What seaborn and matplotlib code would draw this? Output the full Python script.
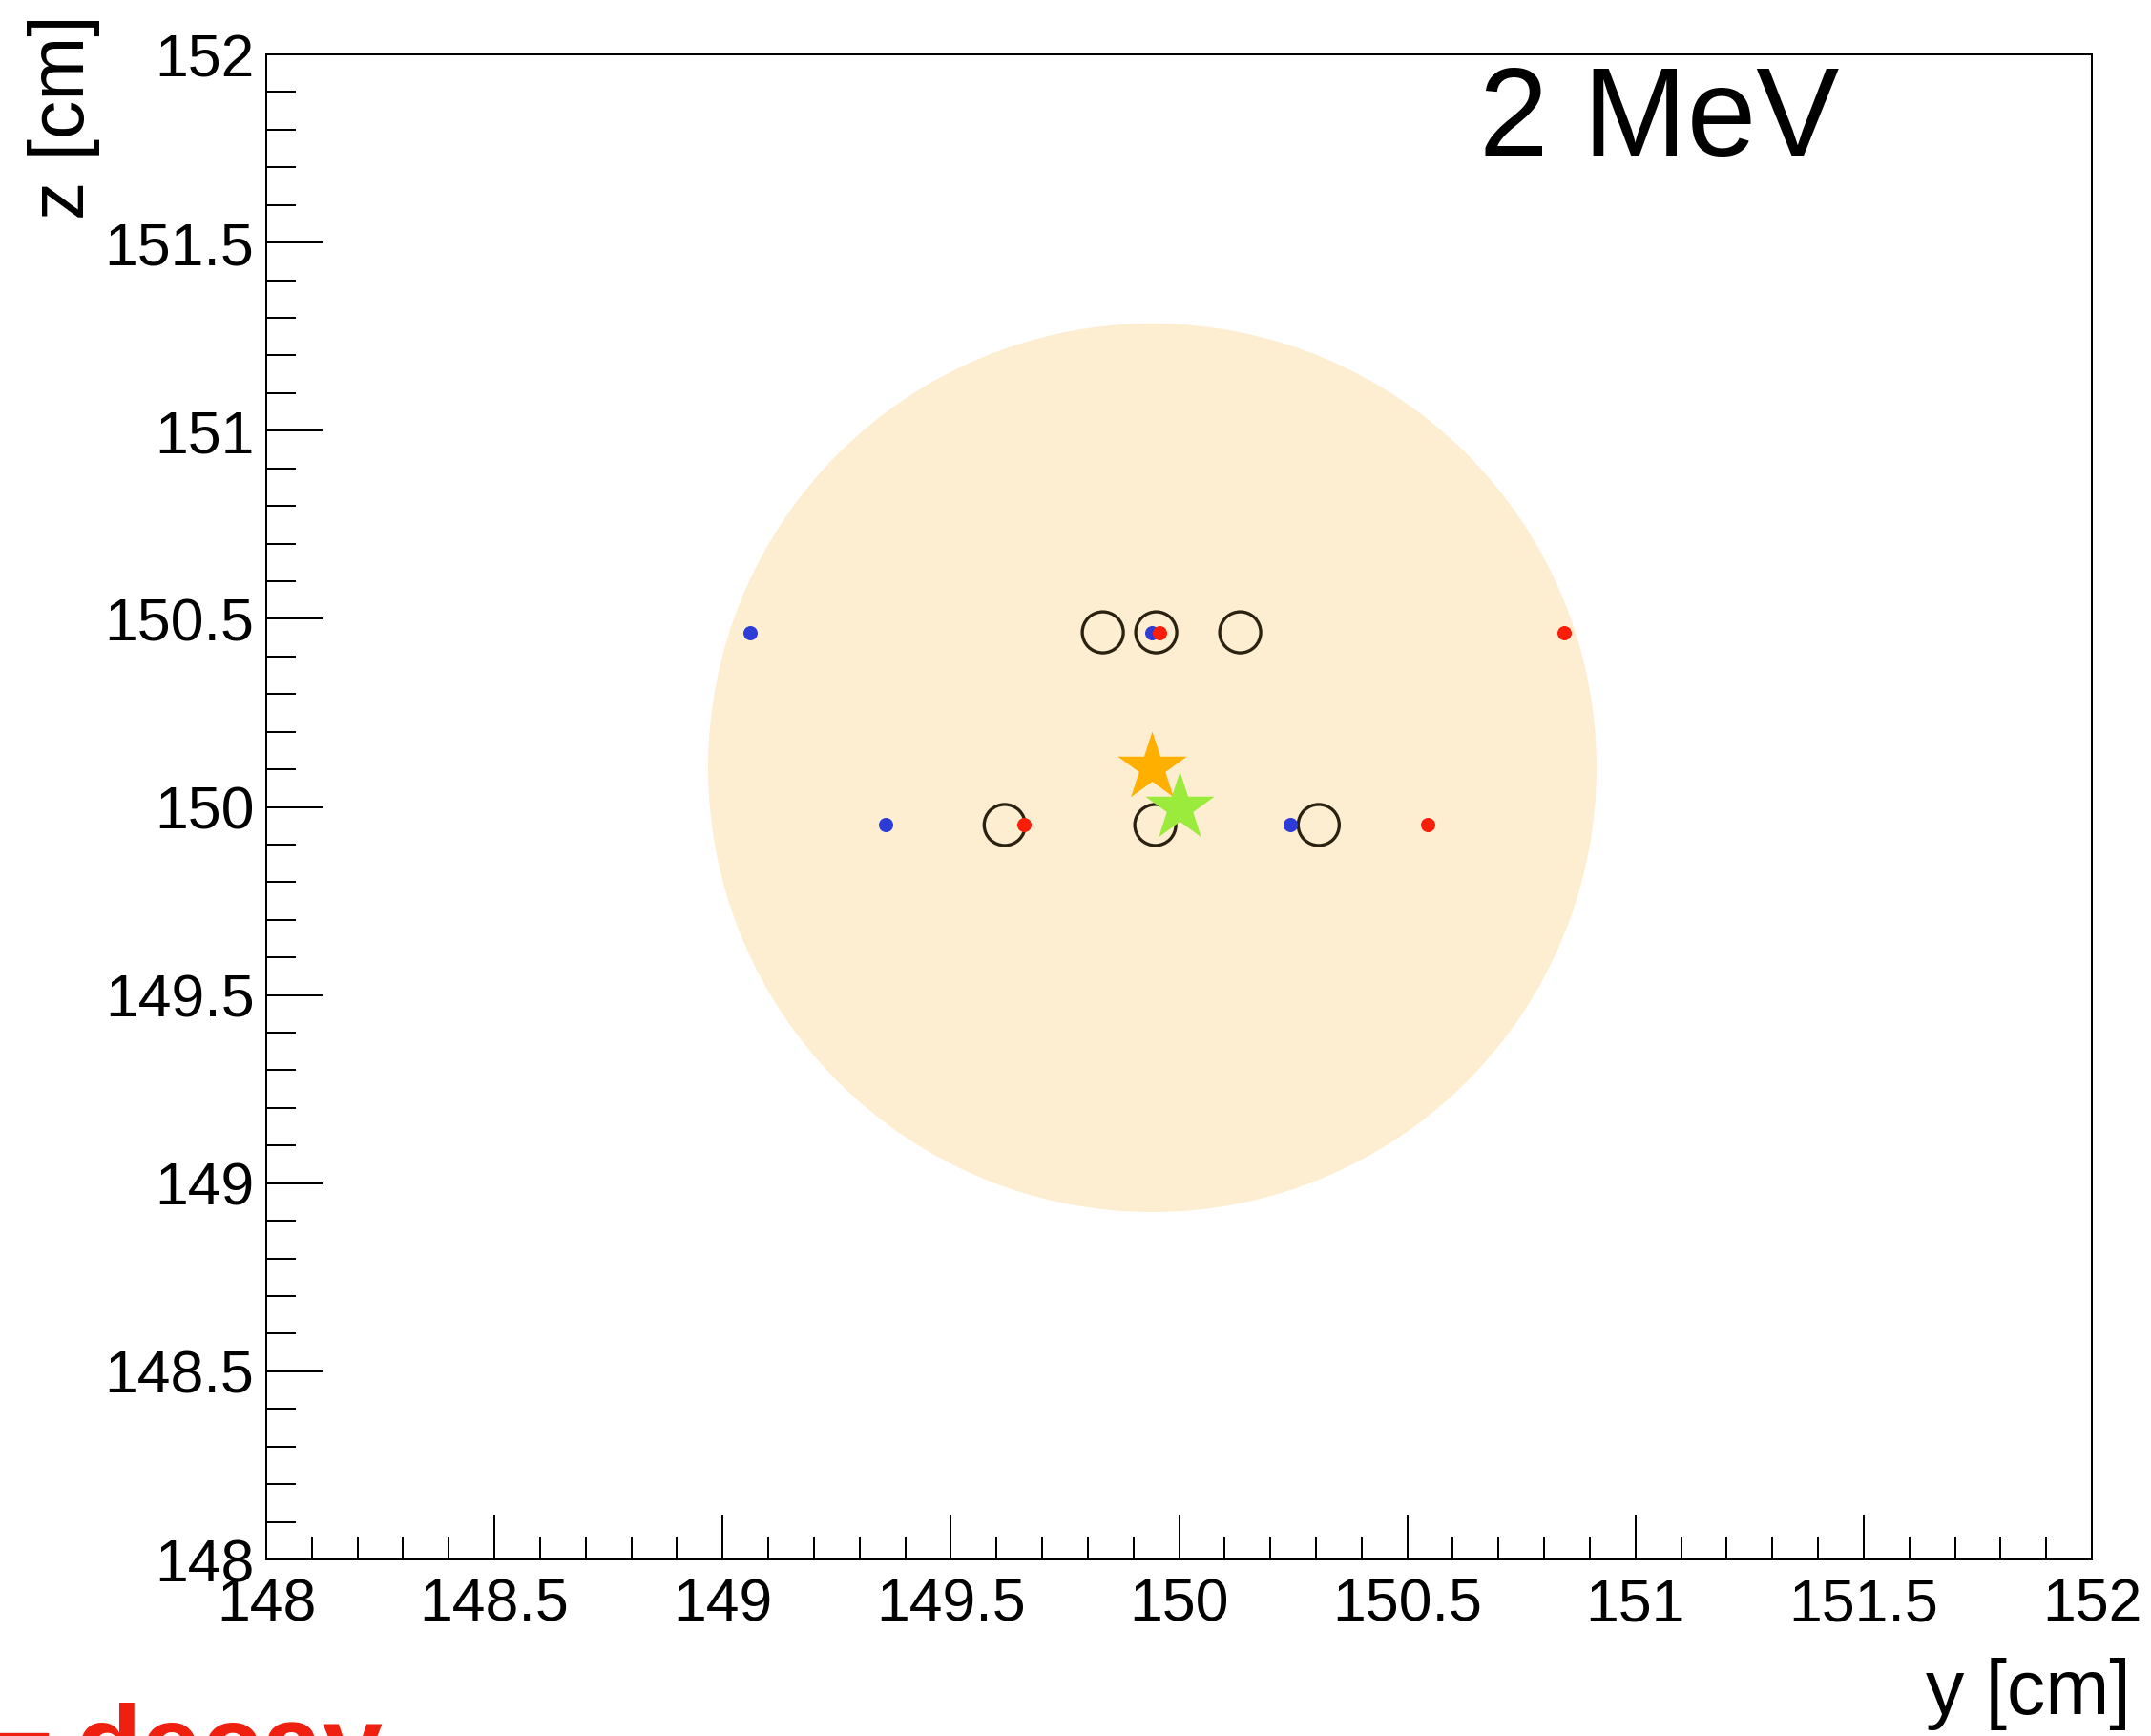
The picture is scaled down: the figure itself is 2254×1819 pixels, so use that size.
import matplotlib
matplotlib.use("Agg")
import matplotlib.pyplot as plt
from matplotlib.patches import Rectangle
from matplotlib.ticker import MultipleLocator
import numpy as np
import pandas as pd
import seaborn as sns

# ---- data (cm) ----
hit_y = [149.833, 149.950, 150.134, 149.618, 149.948, 150.306]
hit_z = [150.464, 150.464, 150.464, 149.952, 149.952, 149.952]

blue_y = [149.061, 149.941, 149.356, 150.243]
blue_z = [150.464, 150.464, 149.952, 149.952]

red_y = [149.958, 150.843, 149.661, 150.544]
red_z = [150.464, 150.464, 149.952, 149.952]

reco_y = [149.941]
reco_z = [150.104]

true_y = [150.0]
true_z = [150.0]

x_limits = [148, 152]
z_limits = [148, 152]
title_text = "2 MeV"
x_title = "y [cm]"
z_title = "z [cm]"
logo_text = "decay"

# ---- style ----
sns.set_style("ticks")
plt.rcParams["font.family"] = ["Liberation Sans", "DejaVu Sans"]
plt.rcParams["text.color"] = "black"
plt.rcParams["axes.labelcolor"] = "black"
plt.rcParams["xtick.color"] = "black"
plt.rcParams["ytick.color"] = "black"

W, H, DPI = 2254, 1819, 100
fig = plt.figure(figsize=(W / DPI, H / DPI), dpi=DPI)
ax = fig.add_axes([279 / W, 1 - 1634 / H, 1913 / W, 1577 / H])
ax.set_facecolor("white")

px = 72.0 / DPI  # points per pixel

# cluster region centred on the reconstructed vertex
cluster_diam_px = 931
sns.scatterplot(x=reco_y, y=reco_z, ax=ax, marker="o", s=(cluster_diam_px * px) ** 2,
                color="#fdeed2", linewidth=0, zorder=1, legend=False)

# detector hits
sns.scatterplot(x=hit_y, y=hit_z, ax=ax, marker="o", s=(43 * px) ** 2,
                facecolor="none", edgecolor="#2b2110", linewidth=3.3 * px,
                zorder=2, legend=False)

# secondary points
sns.scatterplot(x=blue_y, y=blue_z, ax=ax, marker="o", s=(15 * px) ** 2,
                color="#2d3cd6", linewidth=0, zorder=3, legend=False)
sns.scatterplot(x=red_y, y=red_z, ax=ax, marker="o", s=(15 * px) ** 2,
                color="#fa1e0a", linewidth=0, zorder=4, legend=False)

# vertices
star_s = (2 * 38 * px) ** 2
sns.scatterplot(x=reco_y, y=reco_z, ax=ax, marker="*", s=star_s,
                color="#ffaf00", linewidth=0, zorder=5, legend=False)
sns.scatterplot(x=true_y, y=true_z, ax=ax, marker="*", s=star_s,
                color="#9beb3c", linewidth=0, zorder=6, legend=False)

ax.set_xlim(x_limits)
ax.set_ylim(z_limits)

# axes frame and ticks
for sp in ax.spines.values():
    sp.set_visible(True)
    sp.set_linewidth(2 * px)
    sp.set_color("black")

ax.xaxis.set_major_locator(MultipleLocator(0.5))
ax.xaxis.set_minor_locator(MultipleLocator(0.1))
ax.yaxis.set_major_locator(MultipleLocator(0.5))
ax.yaxis.set_minor_locator(MultipleLocator(0.1))
fmt = lambda v, pos: ("%g" % v)
ax.xaxis.set_major_formatter(plt.FuncFormatter(fmt))
ax.yaxis.set_major_formatter(plt.FuncFormatter(fmt))

ax.tick_params(axis="x", which="major", direction="in", length=47 * px, width=2 * px,
               labelsize=45, pad=13, top=False, color="black", labelcolor="black")
ax.tick_params(axis="x", which="minor", direction="in", length=24 * px, width=2 * px,
               top=False, color="black")
ax.tick_params(axis="y", which="major", direction="in", length=59 * px, width=2 * px,
               labelsize=45, pad=9, right=False, color="black", labelcolor="black")
ax.tick_params(axis="y", which="minor", direction="in", length=31 * px, width=2 * px,
               right=False, color="black")

# axis titles
ax.set_xlabel(x_title, fontsize=58, ha="right", va="bottom", color="black")
ax.xaxis.set_label_coords((2233 - 279) / 1913, (1634 - 1813) / 1577)
ax.set_ylabel(z_title, fontsize=58, rotation=90, ha="right", va="top",
              rotation_mode="default", color="black")
ax.yaxis.set_label_coords((105 - 279) / 1913, (1634 - 15) / 1577)

# energy label
ax.text((1550 - 279) / 1913, (1634 - 163) / 1577, title_text, transform=ax.transAxes,
        fontsize=94, ha="left", va="baseline", color="black")

# red logo at the lower left edge
fig.patches.append(Rectangle((0, 0), 50 / W, (1819 - 1816) / H, transform=fig.transFigure,
                             color="#ef2010", zorder=10))
fig.text(78 / W, 1 - 1866 / H, logo_text, fontsize=82, fontweight="bold",
         color="#ef2010", ha="left", va="baseline")

fig.savefig("out.png", dpi=DPI)
